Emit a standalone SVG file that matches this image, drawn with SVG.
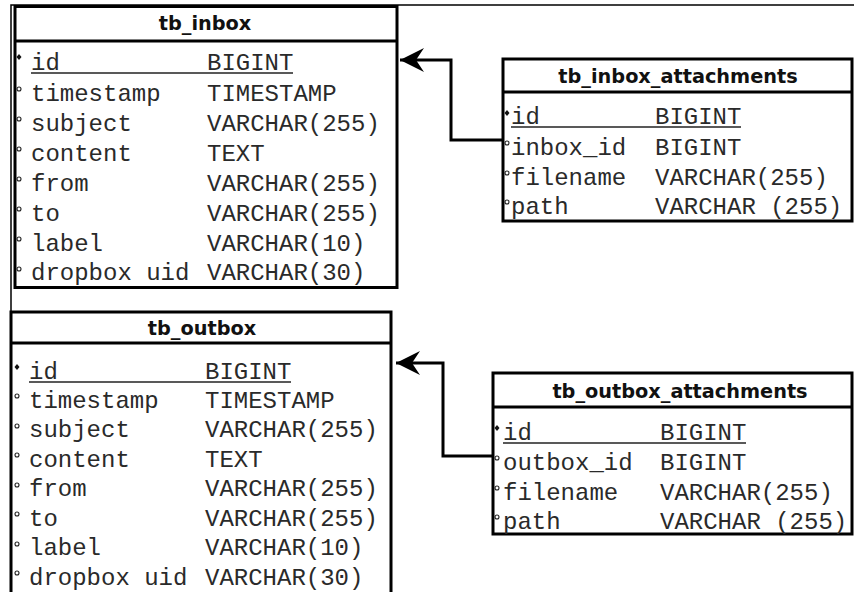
<svg xmlns="http://www.w3.org/2000/svg" width="854" height="592" viewBox="0 0 854 592">
<style>
.box{fill:#fff;stroke:#000;stroke-width:3}
.sep{stroke:#000;stroke-width:3}
.title{font-family:"DejaVu Sans",sans-serif;font-weight:bold;font-size:19.3px;fill:#111;text-anchor:middle}
.f{font-family:"Liberation Mono","Courier New",monospace;font-size:24px;fill:#2a2a2a}
.ul{stroke:#222;stroke-width:1.5}
.pk{fill:#111}
.ck{fill:none;stroke:#222;stroke-width:1.1}
.frame{stroke:#000;stroke-width:1.5;fill:none}
.conn{fill:none;stroke:#000;stroke-width:3}
</style>
<defs>
<marker id="arr" viewBox="0 -13 26 26" refX="25" refY="0" markerWidth="26" markerHeight="26" markerUnits="userSpaceOnUse" orient="auto">
<path d="M25,0 L1,-12 L9,0 L1,12 Z" fill="#000"/>
</marker>
</defs>
<rect width="854" height="592" fill="#fff"/>
<path class="frame" d="M11,313 V5 H854"/>

<g id="connectors">
<path class="conn" d="M503,140 H451 V60 H400" marker-end="url(#arr)"/>
<path class="conn" d="M493,456 H443 V363 H396" marker-end="url(#arr)"/>
</g>

<g id="tb_inbox">
<rect class="box" x="15" y="6.5" width="382" height="281"/>
<line class="sep" x1="15" y1="41" x2="397" y2="41"/>
<text class="title" x="205" y="30">tb_inbox</text>
<path class="pk" d="M19,54 L21.5,57 L19,60 L16.5,57 Z"/>
<circle class="ck" cx="19" cy="89" r="2"/>
<circle class="ck" cx="19" cy="119" r="2"/>
<circle class="ck" cx="19" cy="149" r="2"/>
<circle class="ck" cx="19" cy="179" r="2"/>
<circle class="ck" cx="19" cy="209" r="2"/>
<circle class="ck" cx="19" cy="239" r="2"/>
<circle class="ck" cx="19" cy="269" r="2"/>
<text class="f" x="31" y="70">id</text><text class="f" x="207" y="70">BIGINT</text>
<line class="ul" x1="31" y1="73" x2="293" y2="73"/>
<text class="f" x="31" y="101">timestamp</text><text class="f" x="207" y="101">TIMESTAMP</text>
<text class="f" x="31" y="131">subject</text><text class="f" x="207" y="131">VARCHAR(255)</text>
<text class="f" x="31" y="161">content</text><text class="f" x="207" y="161">TEXT</text>
<text class="f" x="31" y="191">from</text><text class="f" x="207" y="191">VARCHAR(255)</text>
<text class="f" x="31" y="221">to</text><text class="f" x="207" y="221">VARCHAR(255)</text>
<text class="f" x="31" y="251">label</text><text class="f" x="207" y="251">VARCHAR(10)</text>
<text class="f" x="31" y="280">dropbox uid</text><text class="f" x="207" y="280">VARCHAR(30)</text>
</g>

<g id="tb_outbox">
<rect class="box" x="11" y="312" width="380" height="290"/>
<line class="sep" x1="11" y1="343" x2="391" y2="343"/>
<text class="title" x="202" y="335">tb_outbox</text>
<path class="pk" d="M17,364 L19.5,367 L17,370 L14.5,367 Z"/>
<circle class="ck" cx="17" cy="396" r="2"/>
<circle class="ck" cx="17" cy="426" r="2"/>
<circle class="ck" cx="17" cy="455" r="2"/>
<circle class="ck" cx="17" cy="485" r="2"/>
<circle class="ck" cx="17" cy="514" r="2"/>
<circle class="ck" cx="17" cy="544" r="2"/>
<circle class="ck" cx="17" cy="573" r="2"/>
<text class="f" x="29" y="379">id</text><text class="f" x="205" y="379">BIGINT</text>
<line class="ul" x1="29" y1="382" x2="291" y2="382"/>
<text class="f" x="29" y="408">timestamp</text><text class="f" x="205" y="408">TIMESTAMP</text>
<text class="f" x="29" y="437">subject</text><text class="f" x="205" y="437">VARCHAR(255)</text>
<text class="f" x="29" y="467">content</text><text class="f" x="205" y="467">TEXT</text>
<text class="f" x="29" y="496">from</text><text class="f" x="205" y="496">VARCHAR(255)</text>
<text class="f" x="29" y="526">to</text><text class="f" x="205" y="526">VARCHAR(255)</text>
<text class="f" x="29" y="555">label</text><text class="f" x="205" y="555">VARCHAR(10)</text>
<text class="f" x="29" y="585">dropbox uid</text><text class="f" x="205" y="585">VARCHAR(30)</text>
</g>

<g id="tb_inbox_attachments">
<rect class="box" x="503" y="59" width="349" height="162"/>
<line class="sep" x1="503" y1="92" x2="852" y2="92"/>
<text class="title" x="678" y="83">tb_inbox_attachments</text>
<path class="pk" d="M507,110 L509.5,113 L507,116 L504.5,113 Z"/>
<circle class="ck" cx="507" cy="143" r="2"/>
<circle class="ck" cx="507" cy="173" r="2"/>
<circle class="ck" cx="507" cy="202" r="2"/>
<text class="f" x="511" y="124">id</text><text class="f" x="655" y="124">BIGINT</text>
<line class="ul" x1="511" y1="127" x2="741" y2="127"/>
<text class="f" x="511" y="155">inbox_id</text><text class="f" x="655" y="155">BIGINT</text>
<text class="f" x="511" y="185">filename</text><text class="f" x="655" y="185">VARCHAR(255)</text>
<text class="f" x="511" y="214">path</text><text class="f" x="655" y="214">VARCHAR (255)</text>
</g>

<g id="tb_outbox_attachments">
<rect class="box" x="493" y="373" width="359" height="161"/>
<line class="sep" x1="493" y1="407" x2="852" y2="407"/>
<text class="title" x="680" y="398">tb_outbox_attachments</text>
<path class="pk" d="M497,425 L499.5,428 L497,431 L494.5,428 Z"/>
<circle class="ck" cx="497" cy="458" r="2"/>
<circle class="ck" cx="497" cy="488" r="2"/>
<circle class="ck" cx="497" cy="517" r="2"/>
<text class="f" x="503" y="440">id</text><text class="f" x="660" y="440">BIGINT</text>
<line class="ul" x1="503" y1="443" x2="746" y2="443"/>
<text class="f" x="503" y="470">outbox_id</text><text class="f" x="660" y="470">BIGINT</text>
<text class="f" x="503" y="500">filename</text><text class="f" x="660" y="500">VARCHAR(255)</text>
<text class="f" x="503" y="529">path</text><text class="f" x="660" y="529">VARCHAR (255)</text>
</g>
</svg>
